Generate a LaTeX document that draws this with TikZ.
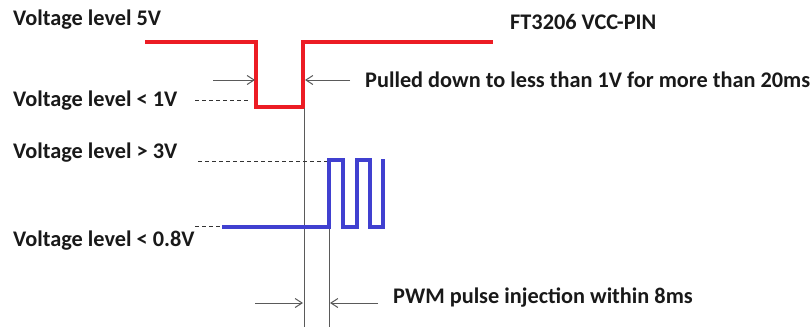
\documentclass[tikz,border=0pt]{standalone}
\usepackage{fontspec}
\setmainfont{Carlito}
\usetikzlibrary{arrows.meta}
\definecolor{sigred}{RGB}{236,28,36}
\definecolor{sigblue}{RGB}{64,64,208}
\definecolor{guide}{RGB}{90,90,90}
\begin{document}
\begin{tikzpicture}[x=1pt,y=-1pt,
  lbl/.style={anchor=west,inner sep=0pt,font=\fontsize{22.3}{25}\selectfont\bfseries,text=black!90},
  redwave/.style={draw=sigred,line width=4pt,line join=miter},
  bluewave/.style={draw=sigblue,line width=3.5pt,line join=miter},
  guideline/.style={draw=guide,line width=1pt},
  dashline/.style={draw=black!80,line width=0.8pt,dash pattern=on 4pt off 3pt},
  marker/.style={draw=guide,line width=1pt,-{Straight Barb[length=7pt,width=9pt]}}]
\useasboundingbox (0,0) rectangle (811,327);
% labels
\node[lbl] (l5) at (13,20) {Voltage level 5V};
\node[lbl] (l1) at (13,101) {Voltage level < 1V};
\node[lbl] (l3) at (13,153) {Voltage level > 3V};
\node[lbl] (l08) at (13,241) {Voltage level < 0.8V};
\node[lbl] (vcc) at (510,22) {FT3206 VCC-PIN};
\node[lbl] (pull) at (365,80) {Pulled down to less than 1V for more than 20ms};
\node[lbl] (pwm) at (393,298) {PWM pulse injection within 8ms};
% red waveform
\coordinate (r0) at (145,42);
\coordinate (r1) at (256,42);
\coordinate (r2) at (256,107);
\coordinate (r3) at (303,107);
\coordinate (r4) at (303,42);
\coordinate (r5) at (493,42);
\draw[redwave] (r0) -- (r1) -- (r2) -- (r3) -- (r4) -- (r5);
% guide lines
\coordinate (g1t) at (304,108);
\coordinate (g1b) at (304,327);
\coordinate (g2t) at (329,226);
\coordinate (g2b) at (329,327);
\draw[guideline] (g1t) -- (g1b);
\draw[guideline] (g2t) -- (g2b);
% dashed level lines
\coordinate (d1a) at (195,100);
\coordinate (d1b) at (248,100);
\draw[dashline] (d1a) -- (d1b);
\coordinate (d3a) at (198,161);
\coordinate (d3b) at (328,161);
\draw[dashline] (d3a) -- (d3b);
\coordinate (d08a) at (195,226);
\coordinate (d08b) at (245,226);
\draw[dashline] (d08a) -- (d08b);
% blue waveform
\coordinate (b0) at (222,227);
\coordinate (b1) at (329,227);
\coordinate (b2) at (329,160);
\coordinate (b3) at (343,160);
\coordinate (b4) at (343,227);
\coordinate (b5) at (357,227);
\coordinate (b6) at (357,160);
\coordinate (b7) at (370,160);
\coordinate (b8) at (370,227);
\coordinate (b9) at (383,227);
\coordinate (b10) at (383,159);
\draw[bluewave] (b0) -- (b1) -- (b2) -- (b3) -- (b4) -- (b5) -- (b6) -- (b7) -- (b8) -- (b9) -- (b10);
% markers
\coordinate (m1s) at (213,80);
\coordinate (m1e) at (255,80);
\coordinate (m2s) at (350,80);
\coordinate (m2e) at (305,80);
\draw[marker] (m1s) -- (m1e);
\draw[marker] (m2s) -- (m2e);
\coordinate (m3s) at (255,303);
\coordinate (m3e) at (303,303);
\coordinate (m4s) at (378,303);
\coordinate (m4e) at (330,303);
\draw[marker] (m3s) -- (m3e);
\draw[marker] (m4s) -- (m4e);
\end{tikzpicture}
\end{document}
